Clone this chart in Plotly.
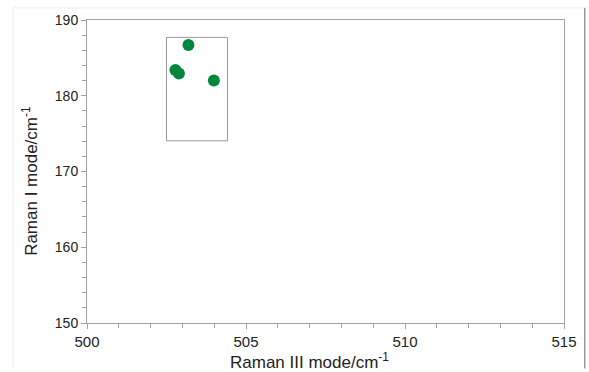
import plotly.graph_objects as go

raman_iii = [502.78, 502.89, 503.19, 503.99]
raman_i = [183.4, 182.95, 186.7, 182.0]
box_x = [502.5, 504.42]
box_y = [174.05, 187.7]

FONT = "Liberation Sans, Arial"

fig = go.Figure()
fig.add_trace(go.Scatter(x=raman_iii, y=raman_i, mode="markers",
                         marker=dict(color="#00873d", size=12), showlegend=False))
fig.add_shape(type="rect", x0=box_x[0], x1=box_x[1], y0=box_y[0], y1=box_y[1],
              xref="x", yref="y", line=dict(color="#9a9a9a", width=1))
# faint page border artifacts
fig.add_shape(type="line", xref="paper", yref="paper", x0=-0.155, x1=1.05, y0=1.04, y1=1.04,
              line=dict(color="#eeeeee", width=1))
fig.add_shape(type="line", xref="paper", yref="paper", x0=1.0435, x1=1.0435, y0=1.04, y1=-0.15,
              line=dict(color="#999999", width=1.5))
fig.add_shape(type="line", xref="paper", yref="paper", x0=-0.155, x1=-0.155, y0=1.04, y1=-0.15,
              line=dict(color="#eeeeee", width=1))

axis_common = dict(showgrid=False, zeroline=False, showline=True, linecolor="#a0a0a0",
                   linewidth=1, mirror=True, ticks="outside", tickcolor="#a0a0a0",
                   ticklen=5)
fig.update_xaxes(range=[500, 515], tickvals=[500, 505, 510, 515],
                 tickfont=dict(family=FONT, size=15, color="#222"),
                 minor=dict(ticks="outside", dtick=1, ticklen=4, tickcolor="#a0a0a0"),
                 **axis_common)
fig.update_yaxes(range=[150, 190], tickvals=[150, 160, 170, 180, 190],
                 tickfont=dict(family=FONT, size=14, color="#222"),
                 minor=dict(ticks="outside", dtick=2, ticklen=4, tickcolor="#a0a0a0"),
                 **axis_common)
fig.add_annotation(text="Raman III mode/cm<sup>-1</sup>", xref="paper", yref="paper",
                   x=0.4655, y=-0.124, showarrow=False, xanchor="center", yanchor="middle",
                   font=dict(family=FONT, size=17, color="#222"))
fig.add_annotation(text="Raman I mode/cm<sup>-1</sup>", xref="paper", yref="paper",
                   x=-0.121, y=0.47, showarrow=False, xanchor="center", yanchor="middle",
                   textangle=-90, font=dict(family=FONT, size=17, color="#222"))
fig.update_layout(width=589, height=372, margin=dict(l=87, r=24, t=17, b=49),
                  plot_bgcolor="white", paper_bgcolor="white")
fig.write_html("out.html")
